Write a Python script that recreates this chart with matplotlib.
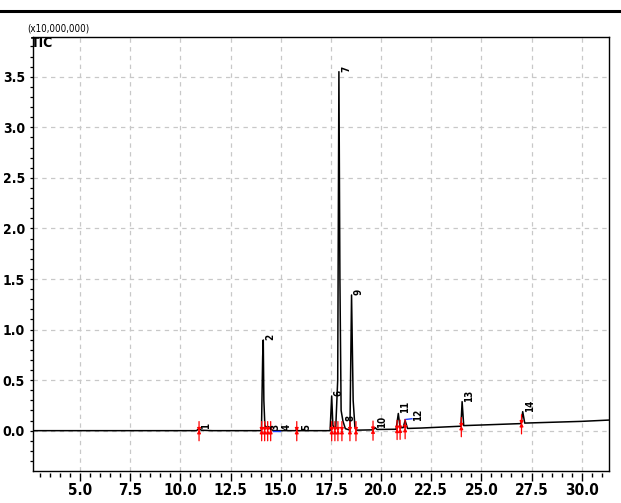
import matplotlib
matplotlib.use('Agg')
import matplotlib.pyplot as plt
from matplotlib.lines import Line2D
from matplotlib.ticker import FixedLocator, MultipleLocator
from matplotlib import font_manager

# ---------------- data ----------------
trace_time = [2.64, 10.80, 10.93, 11.05, 11.6, 14.04, 14.10, 14.13, 14.16, 14.21,
              14.32, 14.40, 14.52, 14.65, 15.74, 15.80, 15.86, 17.46, 17.54, 17.60,
              17.74, 17.84, 17.90, 17.95, 18.01, 18.10, 18.22, 18.45, 18.53, 18.61,
              18.70, 18.78, 19.60, 19.70, 19.80, 20.75, 20.86, 20.95, 21.10, 21.20,
              21.32, 22.00, 23.98, 24.04, 24.12, 25.00, 26.98, 27.06, 27.16, 28.00,
              29.00, 30.00, 31.375]
trace_intensity = [0.000, 0.000, 0.020, 0.004, 0.000, 0.000, 0.730, 0.897, 0.300, 0.050,
                   0.030, 0.040, 0.012, 0.000, 0.000, 0.015, 0.000, 0.000, 0.343, 0.050,
                   0.020, 0.500, 3.551, 1.500, 0.200, 0.095, 0.020, 0.005, 1.342, 0.300,
                   0.030, 0.005, 0.008, 0.030, 0.012, 0.014, 0.170, 0.030, 0.030, 0.100,
                   0.022, 0.026, 0.044, 0.287, 0.050, 0.056, 0.070, 0.188, 0.075, 0.080,
                   0.086, 0.092, 0.105]

peak_ids = ['1', '2', '3', '4', '5', '6', '7', '8', '9', '10', '11', '12', '13', '14']
peak_times = [10.93, 14.13, 14.40, 14.95, 15.95, 17.54, 17.90, 18.10, 18.53, 19.70,
              20.86, 21.20, 24.04, 27.06]
peak_heights = [0.020, 0.897, 0.005, 0.005, 0.005, 0.343, 3.551, 0.095, 1.342, 0.030,
                0.170, 0.100, 0.287, 0.188]

marker_times = [10.93, 14.05, 14.20, 14.35, 14.50, 15.80, 17.54, 17.70, 17.85, 18.05,
                18.45, 18.75, 19.60, 20.80, 20.95, 21.20, 24.00, 27.00]
marker_levels = [0.000, 0.000, 0.000, 0.000, 0.000, 0.000, 0.000, 0.000, 0.000, 0.000,
                 0.000, 0.000, 0.005, 0.012, 0.014, 0.020, 0.040, 0.068]

blue_start = [14.62, 21.19]
blue_end = [14.97, 21.54]
blue_level_start = [0.000, 0.110]
blue_level_end = [0.000, 0.118]

x_ticks = [5.0, 7.5, 10.0, 12.5, 15.0, 17.5, 20.0, 22.5, 25.0, 27.5, 30.0]
x_tick_labels = ['5.0', '7.5', '10.0', '12.5', '15.0', '17.5', '20.0', '22.5', '25.0', '27.5', '30.0']
y_ticks = [0.0, 0.5, 1.0, 1.5, 2.0, 2.5, 3.0, 3.5]
y_tick_labels = ['0.0', '0.5', '1.0', '1.5', '2.0', '2.5', '3.0', '3.5']

# label nudges (points), layout only
label_dx = {'12': 4.0}

# ---------------- font choice: a condensed face if one is installed ----------------
names = {(f.name, f.stretch) for f in font_manager.fontManager.ttflist}
if ('DejaVu Sans', 'condensed') in names or ('DejaVu Sans', 62.5) in names:
    FONT = dict(family=['DejaVu Sans'], stretch='condensed')
elif any(n[0] == 'Liberation Sans Narrow' for n in names):
    FONT = dict(family=['Liberation Sans Narrow'])
else:
    FONT = dict(family=['Liberation Sans', 'DejaVu Sans'])

# ---------------- figure ----------------
W, H = 621, 503
fig = plt.figure(figsize=(W / 100, H / 100), dpi=100)
L, R, T, B = 32.7, 609.3, 37.3, 470.7
ax = fig.add_axes([L / W, 1 - B / H, (R - L) / W, (B - T) / H])
ax.set_xlim(2.64, 31.375)
ax.set_ylim(-0.396, 3.891)

# grid
for xv in x_ticks:
    ax.axvline(xv, color='#c8c8c8', lw=0.9, ls=(0, (3.5, 3.5)), zorder=0)
for yv in y_ticks:
    ax.axhline(yv, color='#c8c8c8', lw=0.9, ls=(0, (3.5, 3.5)), zorder=0)

# trace
ax.plot(trace_time, trace_intensity, color='black', lw=1.1, zorder=3)

# blue integration baselines
for xs, xe, ys, ye in zip(blue_start, blue_end, blue_level_start, blue_level_end):
    ax.plot([xs, xe], [ys, ye], color='#1f3fff', lw=1.0, zorder=4)

# red integration markers
for t, b in zip(marker_times, marker_levels):
    ax.annotate('', xy=(t, b + 0.01), xytext=(t, b - 0.10),
                arrowprops=dict(arrowstyle='-|>', color='red', lw=0.9,
                                mutation_scale=5, shrinkA=0, shrinkB=0), zorder=5)
    ax.annotate('', xy=(t, b - 0.01), xytext=(t, b + 0.09),
                arrowprops=dict(arrowstyle='-|>', color='red', lw=0.9,
                                mutation_scale=5, shrinkA=0, shrinkB=0), zorder=5)

# peak labels
for pid, t, h in zip(peak_ids, peak_times, peak_heights):
    ax.annotate(pid, xy=(t, h), xytext=(1.5 + label_dx.get(pid, 0.0), 0),
                textcoords='offset points',
                rotation=90, ha='left', va='bottom', fontsize=7,
                fontweight='bold', color='black', zorder=6, **FONT)

# axes styling
for s in ['top', 'right', 'left']:
    ax.spines[s].set_color('black')
    ax.spines[s].set_linewidth(1.0)
ax.spines['bottom'].set_visible(False)
ax.spines['bottom'].set_position(('outward', 1.5))
ax.add_line(Line2D([0, 1], [0, 0], transform=ax.transAxes, color='black', lw=1.0,
                   clip_on=False, zorder=10))

ax.xaxis.set_major_locator(FixedLocator(x_ticks))
ax.xaxis.set_minor_locator(MultipleLocator(0.5))
ax.set_xticklabels(x_tick_labels)
ax.yaxis.set_major_locator(FixedLocator(y_ticks))
ax.yaxis.set_minor_locator(MultipleLocator(0.1))
ax.set_yticklabels(y_tick_labels)

ax.tick_params(axis='x', which='major', direction='out', length=5.5, width=1.0, pad=2.0)
ax.tick_params(axis='x', which='minor', direction='out', length=3.0, width=1.0)
ax.tick_params(axis='y', which='both', direction='out', length=2.5, width=0.9, pad=3)
for lab in ax.get_xticklabels():
    lab.set_fontproperties(font_manager.FontProperties(weight='bold', size=11, **FONT))
for lab in ax.get_yticklabels():
    lab.set_fontproperties(font_manager.FontProperties(weight='bold', size=10, **FONT))

# header texts
fig.text(27 / W, 1 - 28.5 / H, '(x10,000,000)', fontsize=7, ha='left', va='center', **FONT)
fig.text(31 / W, 1 - 43 / H, 'TIC', fontsize=10, fontweight='bold',
         ha='left', va='center', **FONT)

# thick rule at the top
fig.add_artist(Line2D([0, 1], [1 - 11 / H, 1 - 11 / H], transform=fig.transFigure,
                      color='black', lw=2.2))

fig.savefig('out.png', dpi=100)
